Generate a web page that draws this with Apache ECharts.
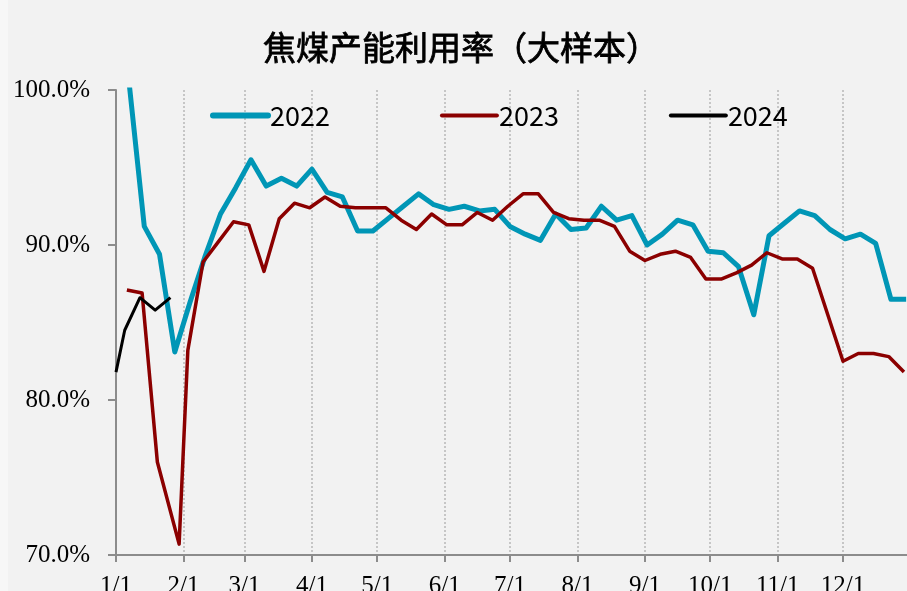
<!DOCTYPE html>
<html>
<head>
<meta charset="utf-8">
<script src="https://cdn.jsdelivr.net/npm/echarts@6/dist/echarts.min.js"></script>
<style>
  html, body { margin: 0; padding: 0; background: #f7f7f7; }
  #main { position: absolute; left: 8px; top: 0; width: 899px; height: 591px; background: #f2f2f2; }
</style>
</head>
<body>
<div id="main"></div>
<script>
// weekly readings, dates are month-day, values in %
var dates2022 = ['01-07','01-14','01-21','01-28','02-04','02-11','02-18','02-25','03-04','03-11','03-18','03-25',
  '04-01','04-08','04-15','04-22','04-29','05-06','05-13','05-20','05-27','06-03','06-10','06-17','06-24',
  '07-01','07-08','07-15','07-22','07-29','08-05','08-12','08-19','08-26','09-02','09-09','09-16','09-23','09-30',
  '10-07','10-14','10-21','10-28','11-04','11-11','11-18','11-25','12-02','12-09','12-16','12-23','12-30'];
var values2022 = [100.5, 91.2, 89.4, 83.1, 86.3, 89.3, 92.0, 93.7, 95.5, 93.8, 94.3, 93.8,
  94.9, 93.4, 93.1, 90.9, 90.9, 91.7, 92.5, 93.3, 92.6, 92.3, 92.5, 92.2, 92.3,
  91.2, 90.7, 90.3, 92.0, 91.0, 91.1, 92.5, 91.6, 91.9, 90.0, 90.7, 91.6, 91.3, 89.6,
  89.5, 88.6, 85.5, 90.6, 91.4, 92.2, 91.9, 91.0, 90.4, 90.7, 90.1, 86.5, 86.5];

var dates2023 = ['01-06','01-13','01-20','01-30','02-03','02-10','02-17','02-24','03-03','03-10','03-17','03-24','03-31',
  '04-07','04-14','04-21','04-28','05-05','05-12','05-19','05-26','06-02','06-09','06-16','06-23','06-30',
  '07-07','07-14','07-21','07-28','08-04','08-11','08-18','08-25','09-01','09-08','09-15','09-22','09-29',
  '10-06','10-13','10-20','10-27','11-03','11-10','11-17','11-24','12-01','12-08','12-15','12-22','12-29'];
var values2023 = [87.1, 86.9, 76.0, 70.7, 83.2, 88.9, 90.2, 91.5, 91.3, 88.3, 91.7, 92.7, 92.4,
  93.1, 92.5, 92.4, 92.4, 92.4, 91.6, 91.0, 92.0, 91.3, 91.3, 92.1, 91.6, 92.5,
  93.3, 93.3, 92.1, 91.7, 91.6, 91.6, 91.2, 89.6, 89.0, 89.4, 89.6, 89.2, 87.8,
  87.8, 88.2, 88.7, 89.5, 89.1, 89.1, 88.5, 85.5, 82.5, 83.0, 83.0, 82.8, 81.8];

var dates2024 = ['01-01','01-05','01-12','01-19','01-26'];
var values2024 = [81.8, 84.5, 86.6, 85.8, 86.6];

var monthTicks = ['01-01','02-01','03-01','04-01','05-01','06-01','07-01','08-01','09-01','10-01','11-01','12-01'];

// all years share one calendar: x = day of year
function dayOf(md) {
  var p = md.split('-');
  return (Date.UTC(2023, +p[0] - 1, +p[1]) - Date.UTC(2023, 0, 1)) / 86400000;
}
function pairs(ds, vs) {
  return ds.map(function (d, i) { return [dayOf(d), vs[i]]; });
}
var tickDays = monthTicks.map(dayOf);
var tickText = {};
monthTicks.forEach(function (m) { tickText[dayOf(m)] = (+m.split('-')[0]) + '/1'; });

var labelFont = { fontFamily: 'Liberation Serif', fontSize: 25, color: '#000' };
var axisGray = '#8c8c8c';
var noDot = { color: 'rgba(0,0,0,0)', borderWidth: 0 };

var chart = echarts.init(document.getElementById('main'));
chart.setOption({
  animation: false,
  title: {
    text: '焦煤产能利用率（大样本）',
    left: 250,
    top: 26,
    textStyle: { fontFamily: 'Noto Sans CJK SC', fontSize: 33, fontWeight: 'normal', color: '#000',
      textBorderColor: '#000', textBorderWidth: 0.8 }
  },
  legend: {
    left: 197,
    top: 97,
    itemWidth: 55,
    itemHeight: 14,
    itemGap: 110,
    textStyle: { fontFamily: 'Noto Sans CJK SC', fontSize: 27, color: '#000', padding: [0, 0, 0, -3] },
    data: [
      { name: '2022', itemStyle: noDot, lineStyle: { width: 6, color: '#0096b6', cap: 'round' } },
      { name: '2023', itemStyle: noDot, lineStyle: { width: 4, color: '#8b0000', cap: 'round' } },
      { name: '2024', itemStyle: noDot, lineStyle: { width: 4, color: '#000000', cap: 'round' } }
    ]
  },
  grid: { left: 108, top: 90, bottom: 36, width: 794.5, outerBoundsMode: 'none', containLabel: false },
  xAxis: {
    type: 'value',
    min: 0,
    max: 365,
    axisLine: { onZero: false, lineStyle: { color: axisGray, width: 2 } },
    axisTick: { show: true, length: 7, lineStyle: { color: axisGray, width: 2 }, customValues: tickDays },
    axisLabel: Object.assign({ margin: 19, customValues: tickDays,
      formatter: function (v) { return tickText[v] || ''; } }, labelFont),
    splitLine: { show: true, lineStyle: { color: '#b8b8b8', width: 1.5, type: [2, 2] } }
  },
  yAxis: {
    type: 'value',
    min: 70,
    max: 100,
    interval: 10,
    axisLine: { show: true, lineStyle: { color: axisGray, width: 2 } },
    axisTick: { show: true, length: 8, lineStyle: { color: axisGray, width: 2 } },
    axisLabel: Object.assign({ margin: 26, formatter: function (v) { return v.toFixed(1) + '%'; } }, labelFont),
    splitLine: { show: false }
  },
  series: [
    { name: '2022', type: 'line', symbol: 'none', data: pairs(dates2022, values2022),
      color: '#0096b6', lineStyle: { width: 5, color: '#0096b6', join: 'round' } },
    { name: '2023', type: 'line', symbol: 'none', data: pairs(dates2023, values2023),
      color: '#8b0000', lineStyle: { width: 3.5, color: '#8b0000', join: 'round' } },
    { name: '2024', type: 'line', symbol: 'none', data: pairs(dates2024, values2024),
      color: '#000000', lineStyle: { width: 3, color: '#000000', join: 'round' } }
  ]
});
</script>
</body>
</html>
